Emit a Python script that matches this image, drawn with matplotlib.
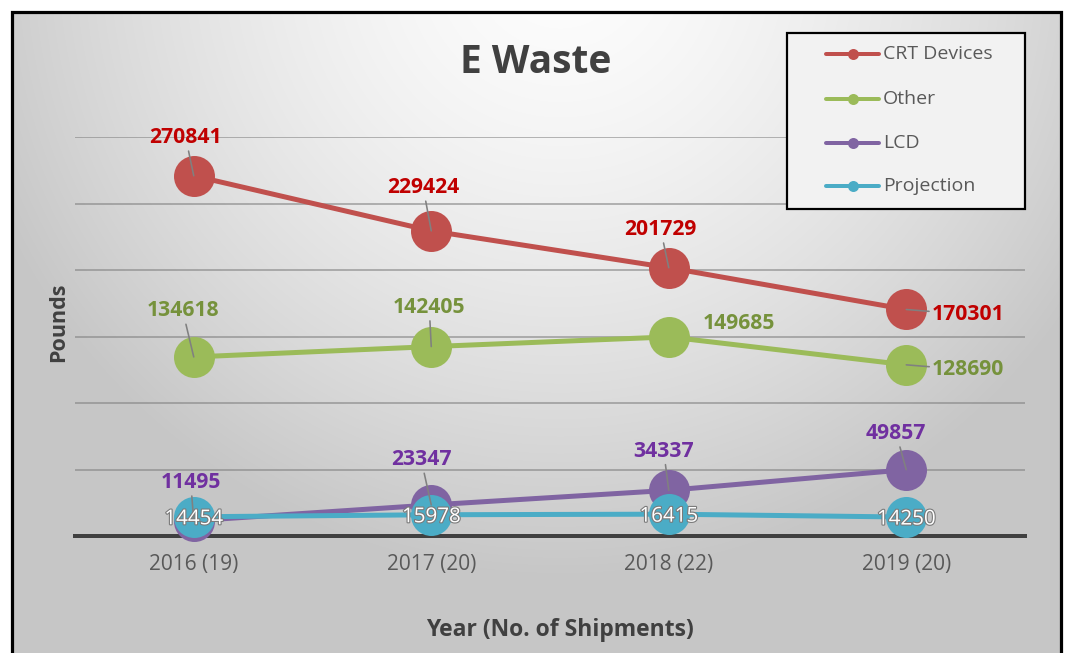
import numpy as np
import matplotlib
matplotlib.use('Agg')
import matplotlib.pyplot as plt
from matplotlib.patches import Rectangle
import matplotlib.patheffects as pe

# ---------------- data ----------------
years = ['2016 (19)', '2017 (20)', '2018 (22)', '2019 (20)']
series_names = ['CRT Devices', 'Other', 'LCD', 'Projection']
crt = [270841, 229424, 201729, 170301]
other = [134618, 142405, 149685, 128690]
lcd = [11495, 23347, 34337, 49857]
projection = [14454, 15978, 16415, 14250]

# ---------------- style ----------------
plt.rcParams['font.family'] = ['Open Sans', 'DejaVu Sans']
line_colors = ['#C0504D', '#9BBB59', '#8064A2', '#4BACC6']
label_colors = ['#C00000', '#76923C', '#7030A0', 'white']
# label offsets in pixels (dx, dy up) relative to each point
label_offsets = [
    [(-8, 38), (-8, 43), (-8, 38), (62, -5)],
    [(-11, 46), (-2, 39), (70, 13), (62, -5)],
    [(-3, 38), (-10, 45), (-5, 39), (-10, 36)],
    [(0, -2), (0, -2), (0, -2), (0, -2)],
]
show_leader = [
    [True, True, True, True],
    [True, True, False, True],
    [True, True, True, True],
    [False, False, False, False],
]

W, H = 1065, 653
PT = 0.72  # points per pixel at dpi 100


def fx(px):
    return px / W


def fy(py):
    return 1 - py / H


fig = plt.figure(figsize=(W / 100, H / 100), dpi=100)
fig.patch.set_facecolor('white')

# ---- background gradient + frame ----
bg = fig.add_axes([0, 0, 1, 1], zorder=0)
yy, xx = np.mgrid[0:H, 0:W]
d = np.hypot(xx - 560, yy + 40)
v = 253 - 55 * np.clip(d / 620, 0, 1) ** 1.5
img = np.dstack([v, v, v]) / 255.0
outside = (xx < 12) | (xx > 1060) | (yy < 12)
img[outside] = 1.0
bg.imshow(img, extent=[0, W, H, 0], interpolation='bilinear', aspect='auto')
bg.set_xlim(0, W)
bg.set_ylim(H, 0)
bg.axis('off')
bg.plot([11.5, 11.5, 1060.5, 1060.5], [700, 11.5, 11.5, 700], color='black',
        lw=3.2 * PT, solid_joinstyle='miter', clip_on=False)

# ---- main axes ----
ax = fig.add_axes([fx(75), fy(536), fx(1025) - fx(75), (536 - 137) / H], zorder=2)
ax.set_facecolor('none')
ax.set_xlim(-0.5, 3.5)
ax.set_ylim(0, 300000)
ax.set_yticks(np.arange(50000, 300001, 50000))
ax.yaxis.grid(True, color='#7f7f7f', alpha=0.55, lw=2 * PT)
ax.set_axisbelow(True)
ax.tick_params(axis='y', length=0, labelleft=False)
for s in ['left', 'right', 'top']:
    ax.spines[s].set_visible(False)
ax.spines['bottom'].set_color('#404040')
ax.spines['bottom'].set_linewidth(4 * PT)
ax.spines['bottom'].set_zorder(1.5)
x = np.arange(len(years))
ax.set_xticks(x)
ax.set_xticklabels(years, fontsize=15, color='#595959')
ax.tick_params(axis='x', length=0, pad=13)

all_series = [crt, other, lcd, projection]
for i, vals in enumerate(all_series):
    ax.plot(x, vals, color=line_colors[i], lw=5 * PT, marker='o', ms=41 * PT,
            markeredgewidth=0, zorder=3 + i, clip_on=False)

for i, vals in enumerate(all_series):
    for j, val in enumerate(vals):
        dx, dy = label_offsets[i][j]
        kw = {}
        if show_leader[i][j]:
            kw['arrowprops'] = dict(arrowstyle='-', color='#808080', lw=1.6 * PT,
                                    shrinkA=0, shrinkB=0)
        if i == 3:
            t = ax.annotate(str(val), (j, val), xytext=(dx * PT, dy * PT),
                            textcoords='offset points', ha='center', va='center',
                            fontsize=14.8, color='white', zorder=12, **kw)
            t.set_path_effects([pe.withStroke(linewidth=1.6, foreground='#7a7a7a')])
        else:
            ax.annotate(str(val), (j, val), xytext=(dx * PT, dy * PT),
                        textcoords='offset points', ha='center', va='center',
                        fontsize=15.2, fontweight='bold', color=label_colors[i],
                        zorder=12, **kw)

# ---- titles ----
fig.text(fx(536), fy(73), 'E Waste', ha='center', va='baseline', fontsize=28,
         fontweight='bold', color='#404040')
fig.text(fx(560), fy(636), 'Year (No. of Shipments)', ha='center', va='baseline',
         fontsize=16.5, fontweight='bold', color='#404040')
fig.text(fx(59), fy(322), 'Pounds', ha='center', va='center', rotation=90,
         fontsize=15.5, fontweight='bold', color='#404040')

# ---- legend (drawn in pixel space on overlay) ----
ov = fig.add_axes([0, 0, 1, 1], zorder=5)
ov.set_xlim(0, W)
ov.set_ylim(H, 0)
ov.axis('off')
ov.add_patch(Rectangle((787, 33), 238, 176, facecolor='#f2f2f2', edgecolor='black',
                       lw=2.2 * PT, zorder=1))
rows = [54, 98.5, 142.5, 186]
for i, name in enumerate(series_names):
    ov.plot([826, 879], [rows[i], rows[i]], color=line_colors[i], lw=4 * PT,
            solid_capstyle='round', zorder=2)
    ov.plot([852.5], [rows[i]], marker='o', ms=11 * PT, color=line_colors[i],
            markeredgewidth=0, zorder=3)
    ov.text(883, rows[i], name, ha='left', va='center', fontsize=14,
            color='#595959', zorder=3)

fig.savefig('out.png', dpi=100)
